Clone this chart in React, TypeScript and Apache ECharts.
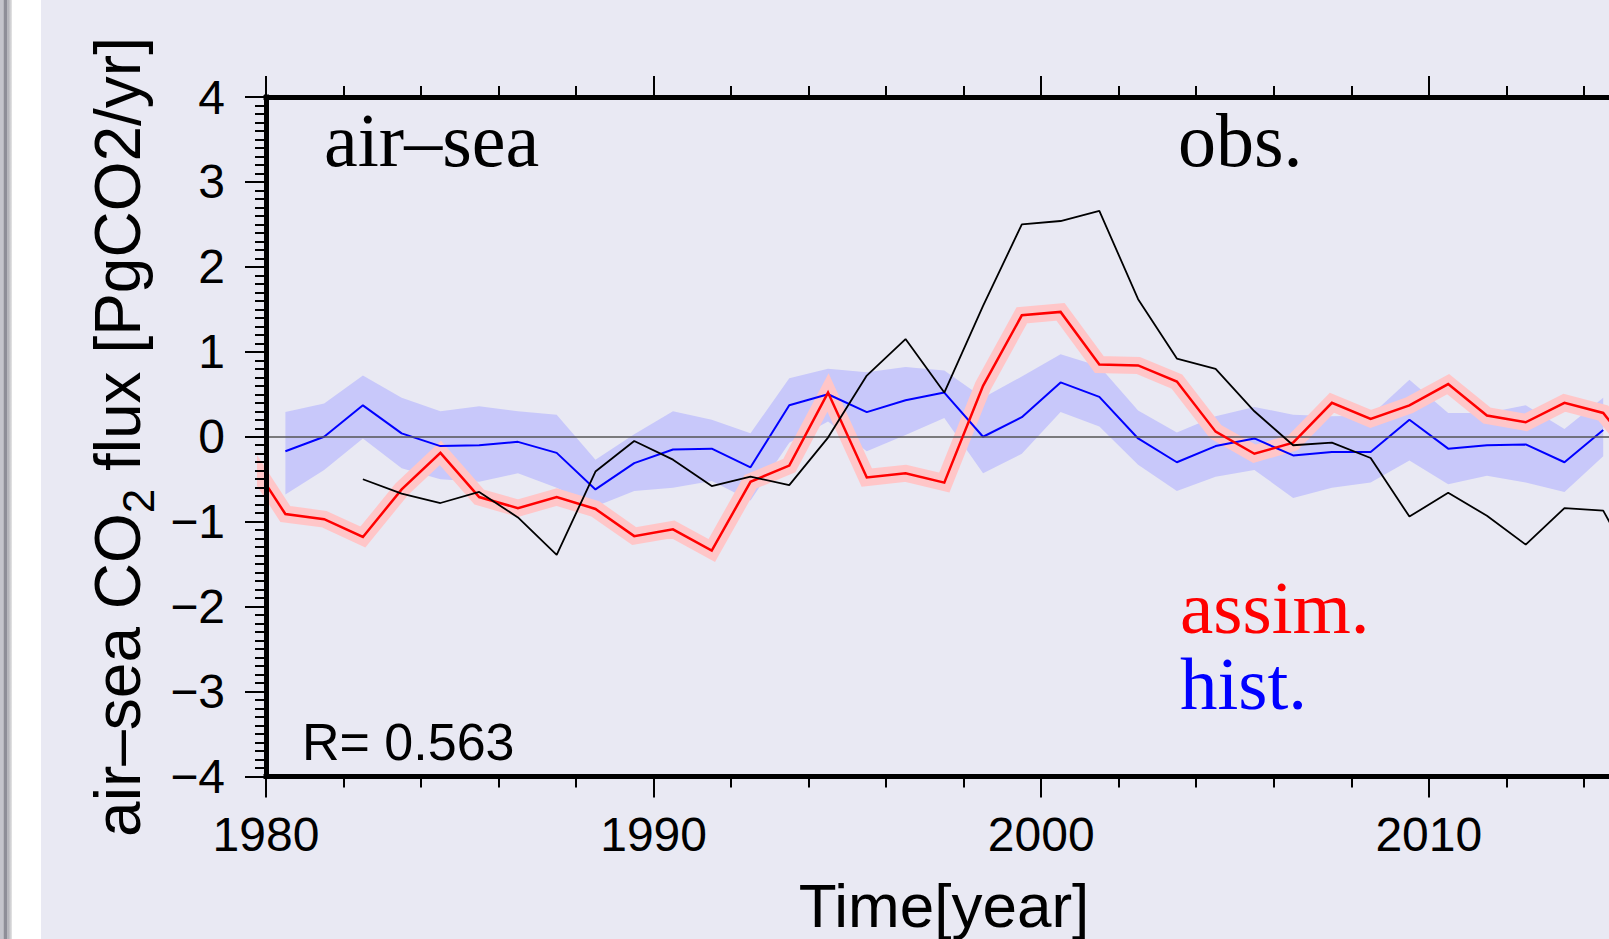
import React, { useEffect, useRef } from 'react';
import * as echarts from 'echarts';

const SANS = '"Liberation Sans", Arial, Helvetica, sans-serif';
const SERIF = '"Liberation Serif", "Times New Roman", serif';

// assim. (red) – annual means
const assimYears = [1979.5, 1980.5, 1981.5, 1982.5, 1983.5, 1984.5, 1985.5, 1986.5, 1987.5, 1988.5, 1989.5, 1990.5, 1991.5, 1992.5, 1993.5, 1994.5, 1995.5, 1996.5, 1997.5, 1998.5, 1999.5, 2000.5, 2001.5, 2002.5, 2003.5, 2004.5, 2005.5, 2006.5, 2007.5, 2008.5, 2009.5, 2010.5, 2011.5, 2012.5, 2013.5, 2014.5, 2015.5];
const assimValues = [-0.21, -0.91, -0.97, -1.18, -0.62, -0.19, -0.71, -0.84, -0.71, -0.85, -1.17, -1.09, -1.34, -0.53, -0.34, 0.52, -0.48, -0.43, -0.54, 0.60, 1.43, 1.47, 0.85, 0.84, 0.65, 0.06, -0.20, -0.07, 0.40, 0.21, 0.37, 0.62, 0.25, 0.17, 0.40, 0.28, -0.30];

// hist. (blue) – ensemble mean and spread
const histYears = [1980.5, 1981.5, 1982.5, 1983.5, 1984.5, 1985.5, 1986.5, 1987.5, 1988.5, 1989.5, 1990.5, 1991.5, 1992.5, 1993.5, 1994.5, 1995.5, 1996.5, 1997.5, 1998.5, 1999.5, 2000.5, 2001.5, 2002.5, 2003.5, 2004.5, 2005.5, 2006.5, 2007.5, 2008.5, 2009.5, 2010.5, 2011.5, 2012.5, 2013.5, 2014.5];
const histValues = [-0.17, 0.00, 0.37, 0.04, -0.11, -0.10, -0.06, -0.19, -0.62, -0.31, -0.15, -0.14, -0.36, 0.37, 0.50, 0.29, 0.43, 0.52, 0.00, 0.23, 0.64, 0.47, -0.02, -0.30, -0.11, -0.02, -0.22, -0.18, -0.18, 0.20, -0.14, -0.10, -0.09, -0.30, 0.08];
const histUpper = [0.29, 0.39, 0.72, 0.46, 0.30, 0.36, 0.30, 0.26, -0.27, 0.03, 0.30, 0.20, 0.04, 0.69, 0.80, 0.76, 0.82, 0.78, 0.46, 0.71, 0.97, 0.83, 0.31, 0.05, 0.24, 0.35, 0.26, 0.24, 0.25, 0.67, 0.28, 0.28, 0.37, 0.09, 0.46];
const histLower = [-0.68, -0.39, -0.02, -0.37, -0.50, -0.53, -0.43, -0.60, -0.82, -0.64, -0.60, -0.52, -0.75, -0.07, 0.18, -0.17, 0.02, 0.22, -0.43, -0.20, 0.29, 0.12, -0.33, -0.64, -0.47, -0.39, -0.72, -0.60, -0.54, -0.28, -0.56, -0.46, -0.54, -0.65, -0.23];

// obs. (black)
const obsYears = [1982.5, 1983.5, 1984.5, 1985.5, 1986.5, 1987.5, 1988.5, 1989.5, 1990.5, 1991.5, 1992.5, 1993.5, 1994.5, 1995.5, 1996.5, 1997.5, 1998.5, 1999.5, 2000.5, 2001.5, 2002.5, 2003.5, 2004.5, 2005.5, 2006.5, 2007.5, 2008.5, 2009.5, 2010.5, 2011.5, 2012.5, 2013.5, 2014.5, 2015.5];
const obsValues = [-0.50, -0.67, -0.78, -0.65, -0.95, -1.39, -0.41, -0.05, -0.27, -0.58, -0.47, -0.57, -0.01, 0.72, 1.15, 0.52, 1.54, 2.50, 2.54, 2.66, 1.62, 0.92, 0.80, 0.30, -0.10, -0.07, -0.25, -0.94, -0.66, -0.93, -1.27, -0.84, -0.87, -1.70];

const xMin = 1980;
const xMax = 2020;
const xInterval = 10;
const yMin = -4;
const yMax = 4;
const yInterval = 1;

const BG = '#E9E9F3';

const pairs = (xs: number[], ys: number[]) => xs.map((x, i) => [x, ys[i]]);

export default function App() {
  const ref = useRef<HTMLDivElement>(null);

  useEffect(() => {
    if (!ref.current) return;
    const chart = echarts.init(ref.current, null, { renderer: 'svg' });

    const minus = (v: number) => (v < 0 ? '\u2212' + Math.abs(v) : String(v));

    const axisLineStyle = { color: '#000', width: 5, cap: 'square' };
    const tickStyle = { color: '#000', width: 2 };

    const option: any = {
      animation: false,
      backgroundColor: BG,
      grid: { left: 266, top: 97, width: 1550.4, height: 679.5, containLabel: false, outerBoundsMode: 'none' },
      xAxis: [
        {
          type: 'value',
          position: 'bottom',
          min: xMin,
          max: xMax,
          interval: xInterval,
          z: 10,
          axisLine: { show: true, onZero: false, lineStyle: axisLineStyle },
          axisTick: { show: true, length: 21, lineStyle: tickStyle },
          minorTick: { show: true, splitNumber: 5, length: 11, lineStyle: tickStyle },
          splitLine: { show: false },
          axisLabel: {
            show: true,
            showMaxLabel: false,
            margin: 34,
            fontSize: 48,
            fontFamily: SANS,
            color: '#000',
            formatter: (v: number) => (v > 2015 ? '' : String(v)),
          },
        },
        {
          type: 'value',
          position: 'top',
          min: xMin,
          max: xMax,
          interval: xInterval,
          z: 10,
          axisLine: { show: true, onZero: false, lineStyle: axisLineStyle },
          axisTick: { show: true, length: 21, lineStyle: tickStyle },
          minorTick: { show: true, splitNumber: 5, length: 11, lineStyle: tickStyle },
          splitLine: { show: false },
          axisLabel: { show: false },
        },
      ],
      yAxis: [
        {
          type: 'value',
          position: 'left',
          min: yMin,
          max: yMax,
          interval: yInterval,
          z: 10,
          axisLine: { show: true, onZero: false, lineStyle: axisLineStyle },
          axisTick: { show: true, length: 21, lineStyle: tickStyle },
          minorTick: { show: true, splitNumber: 10, length: 11, lineStyle: tickStyle },
          splitLine: { show: false },
          axisLabel: {
            show: true,
            margin: 41,
            fontSize: 48,
            fontFamily: SANS,
            color: '#000',
            formatter: minus,
          },
        },
      ],
      series: [
        {
          type: 'line',
          name: 'zero',
          data: [],
          z: 1,
          silent: true,
          markLine: {
            silent: true,
            symbol: 'none',
            label: { show: false },
            lineStyle: { color: '#555', width: 1.5, type: 'solid' },
            data: [{ yAxis: 0 }],
          },
        },
        {
          type: 'custom',
          name: 'hist. spread',
          z: 2,
          silent: true,
          data: [[histYears[0], histUpper[0]]],
          encode: { x: 0, y: 1 },
          renderItem: (params: any, api: any) => {
            if (params.dataIndex !== 0) return null;
            const pts: number[][] = [];
            for (let i = 0; i < histYears.length; i++) pts.push(api.coord([histYears[i], histUpper[i]]));
            for (let i = histYears.length - 1; i >= 0; i--) pts.push(api.coord([histYears[i], histLower[i]]));
            return { type: 'polygon', shape: { points: pts }, style: { fill: '#C8C8FA' } };
          },
        },
        {
          type: 'line',
          name: 'assim. band',
          z: 3,
          silent: true,
          data: pairs(assimYears, assimValues),
          showSymbol: false,
          symbol: 'none',
          clip: true,
          lineStyle: { color: '#FFC6C8', width: 17, join: 'miter', cap: 'butt' },
        },
        {
          type: 'line',
          name: 'hist.',
          z: 4,
          data: pairs(histYears, histValues),
          showSymbol: false,
          symbol: 'none',
          clip: true,
          lineStyle: { color: '#0000FF', width: 2 },
        },
        {
          type: 'line',
          name: 'assim.',
          z: 5,
          data: pairs(assimYears, assimValues),
          showSymbol: false,
          symbol: 'none',
          clip: true,
          lineStyle: { color: '#FF0000', width: 2.5, join: 'miter' },
        },
        {
          type: 'line',
          name: 'obs.',
          z: 6,
          data: pairs(obsYears, obsValues),
          showSymbol: false,
          symbol: 'none',
          clip: true,
          lineStyle: { color: '#000000', width: 1.8 },
        },
      ],
      graphic: [
        // left window edge
        { type: 'rect', left: 0, top: 0, shape: { x: 0, y: 0, width: 41, height: 939 }, style: { fill: '#FFFFFF' }, z: 100 },
        { type: 'rect', left: 0, top: 0, shape: { x: 0, y: 0, width: 3.5, height: 939 }, style: { fill: '#C4C4CC' }, z: 101 },
        { type: 'rect', left: 3.5, top: 0, shape: { x: 0, y: 0, width: 4, height: 939 }, style: { fill: '#8E8E98' }, z: 101 },
        {
          type: 'rect', left: 7.5, top: 0, shape: { x: 0, y: 0, width: 4.5, height: 939 },
          style: {
            fill: new echarts.graphic.LinearGradient(0, 0, 1, 0, [
              { offset: 0, color: '#A8A8B0' },
              { offset: 1, color: '#E6E6E6' },
            ]),
          },
          z: 101,
        },
        // y-axis title
        {
          type: 'text',
          x: 118,
          y: 437,
          rotation: Math.PI / 2,
          z: 100,
          style: {
            text: '{m|air\u2013sea CO}{s|2}{m| flux [PgCO2/yr]}',
            align: 'center',
            verticalAlign: 'middle',
            rich: {
              m: { fontSize: 64, fontFamily: SANS, fill: '#000', lineHeight: 70 },
              s: { fontSize: 44, fontFamily: SANS, fill: '#000', lineHeight: 70, verticalAlign: 'top', padding: [33, 0, 0, 0] },
            },
          },
        },
        // x-axis title
        {
          type: 'text', x: 944, y: 905.5, z: 100,
          style: { text: 'Time[year]', fontSize: 62, fontFamily: SANS, fill: '#000', align: 'center', verticalAlign: 'middle' },
        },
        {
          type: 'text', x: 324, y: 140.4, z: 100,
          style: { text: 'air\u2013sea', fontSize: 76, fontFamily: SERIF, fill: '#000', align: 'left', verticalAlign: 'middle' },
        },
        {
          type: 'text', x: 1178, y: 140.4, z: 100,
          style: { text: 'obs.', fontSize: 76, fontFamily: SERIF, fill: '#000', align: 'left', verticalAlign: 'middle' },
        },
        {
          type: 'text', x: 1180, y: 607.5, z: 100,
          style: { text: 'assim.', fontSize: 75, fontFamily: SERIF, fill: '#FF0000', align: 'left', verticalAlign: 'middle' },
        },
        {
          type: 'text', x: 1180, y: 683, z: 100,
          style: { text: 'hist.', fontSize: 75, fontFamily: SERIF, fill: '#0000FF', align: 'left', verticalAlign: 'middle' },
        },
        {
          type: 'text', x: 302, y: 742, z: 100,
          style: { text: 'R= 0.563', fontSize: 52, fontFamily: SANS, fill: '#000', align: 'left', verticalAlign: 'middle' },
        },
      ],
    };

    chart.setOption(option);
    return () => chart.dispose();
  }, []);

  return (
    <div
      ref={ref}
      style={{ position: 'fixed', left: 0, top: 0, width: 1609, height: 939, background: BG }}
    />
  );
}
